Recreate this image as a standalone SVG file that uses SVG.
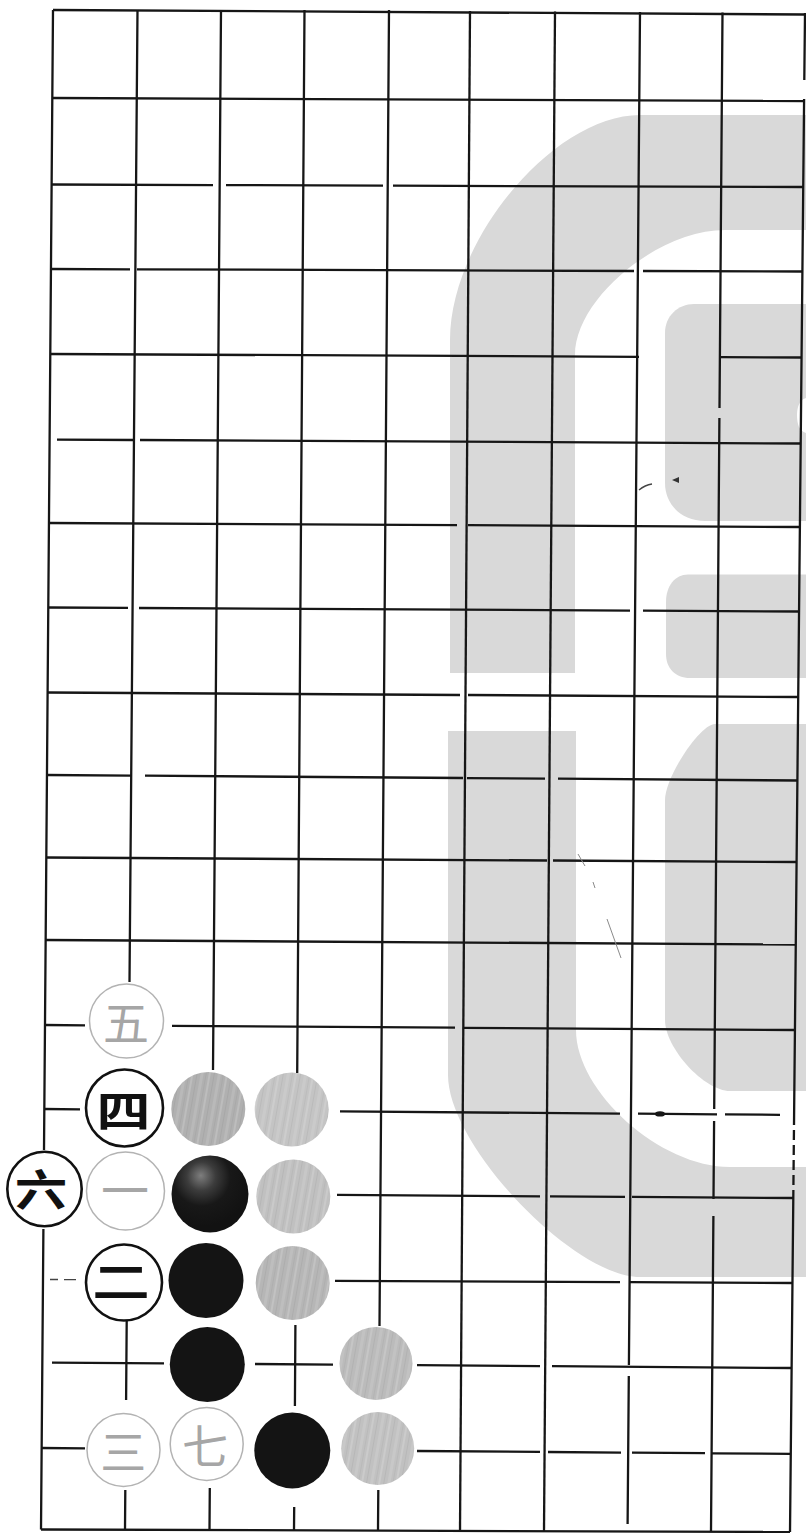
<svg xmlns="http://www.w3.org/2000/svg" width="806" height="1533" viewBox="0 0 806 1533">
<style>
.wm{fill:#d9d9d9}
.ln{stroke:#161616;stroke-width:2.3;fill:none}
.fd{stroke:#444;stroke-width:1.3;fill:none}
.sc{stroke:#8a8a8a;stroke-width:1;fill:none}
.wo{fill:#fff;stroke:#111;stroke-width:2.6}
.wl{fill:#fff;stroke:#b3b3b3;stroke-width:1.5}
.bk{fill:#141414}
.tb{font-family:"Noto Sans CJK SC","Noto Sans CJK JP",sans-serif;font-size:50px;font-weight:700;fill:#111;text-anchor:middle}
.tg{font-family:"Noto Sans CJK SC","Noto Sans CJK JP",sans-serif;font-size:46px;font-weight:400;fill:#a6a6a6;text-anchor:middle}
</style>
<defs>
<pattern id="streak" patternUnits="userSpaceOnUse" width="17" height="17" patternTransform="rotate(10)">
<rect x="1" width="2" height="17" fill="#fff" fill-opacity="0.16"/>
<rect x="6" width="1" height="17" fill="#000" fill-opacity="0.05"/>
<rect x="10" width="3" height="17" fill="#fff" fill-opacity="0.11"/>
<rect x="15" width="1" height="17" fill="#000" fill-opacity="0.04"/>
</pattern>
<radialGradient id="hl" cx="0.4" cy="0.3" r="0.62" fx="0.38" fy="0.26">
<stop offset="0" stop-color="#7e7e7e"/>
<stop offset="0.3" stop-color="#3c3c3c"/>
<stop offset="0.6" stop-color="#181818"/>
<stop offset="1" stop-color="#121212"/>
</radialGradient>
</defs>
<rect width="806" height="1533" fill="#fff"/>
<g id="watermark">
<path class="wm" d="M450 673 L450 340 C450 238.75 554.5 115 640 115 L806 115 L806 230 L725 230 C657.5 230 575 299 575 355 L575 673 Z"/>
<path class="wm" d="M806 304 L694 304 C678 304 665 316 665 333 L665 483 C665 505 682 521 705 521 L806 521 Z"/>
<path d="M806 398 C799 400 797 408 797 415 C797 424 799 431 806 433 Z" fill="#fff"/>
<path class="wm" d="M806 574.5 L688 574.5 C675 574.5 666 586 666 602 L666 654 C666 668 675 678 690 678 L806 678 Z"/>
<path class="wm" d="M448 731 L576 731 L576 1030 C576 1091.7 660 1167 730 1167 L806 1167 L806 1277 L640 1277 C573.5 1277 448 1146 448 1075 Z"/>
<path class="wm" d="M806 724 L715 724 C700 724 665 777 665 800 L665 1020 C665 1048 704 1091 730 1091 L806 1091 Z"/>
</g>
<g id="connectors">
<path class="ln" d="M53 10 L805 14.5"/>
<path class="ln" d="M52.3 98 L804.1 101"/>
<path class="ln" d="M51.6 184.5 L213 185.1 M226 185.1 L383 185.6 M393 185.7 L803.3 187"/>
<path class="ln" d="M50.9 269 L130 269.3 M137 269.3 L634 271 M643 271 L802.4 271.5"/>
<path class="ln" d="M50.3 354 L639 356.8 M721 357.1 L801.6 357.5"/>
<path class="ln" d="M57 439.6 L133 440 M140 440 L800.8 443.5"/>
<path class="ln" d="M48.9 523 L457 525.2 M468 525.2 L799.9 527"/>
<path class="ln" d="M48.3 607.5 L128 607.9 M139 608 L630 610.6 M643 610.7 L799.1 611.5"/>
<path class="ln" d="M47.6 692.5 L460 695 M468 695 L798.3 697"/>
<path class="ln" d="M46.9 775 L131 775.6 M145 775.7 L463 778 M467 778.1 L545 778.6 M558 778.7 L797.4 780.5"/>
<path class="ln" d="M46.3 857.5 L547 860.5 M553 860.5 L796.6 862"/>
<path class="ln" d="M45.6 940 L795.8 944.5"/>
<path class="ln" d="M45 1025 L85 1025.3 M172 1025.8 L455 1027.7 M463 1027.8 L794.9 1030"/>
<path class="ln" d="M44.3 1109 L80 1109.3 M340 1111.4 L620 1113.6 M638 1113.7 L717 1114.3 M725 1114.4 L780 1114.8"/>
<ellipse cx="660" cy="1113.9" rx="5" ry="2.6" fill="#161616"/>
<path class="ln" d="M337 1194.9 L540 1196.3 M550 1196.3 L625 1196.8 M632 1196.9 L793.3 1198"/>
<path class="fd" d="M50 1279.5 L58 1279.5 M64 1279.6 L76 1279.6"/>
<path class="ln" d="M335 1280.8 L620 1282.2 M630 1282.2 L792.5 1283"/>
<path class="ln" d="M52 1362.6 L164 1363.4 M255 1364 L333 1364.6 M417 1365.2 L540 1366.1 M552 1366.2 L791.6 1368"/>
<path class="ln" d="M41.6 1448 L85 1448.3 M417 1451 L540 1451.9 M548 1452 L621 1452.6 M632 1452.7 L705 1453.2 M712 1453.3 L790.8 1453.9"/>
<path class="ln" d="M41 1529.5 L790 1532"/>
<path class="ln" d="M53 10 L44 1150 M43.4 1229 L41 1529.5"/>
<path class="ln" d="M137.5 10 L129.5 982 M126.7 1321 L126.1 1400 M125.3 1490 L125 1530"/>
<path class="ln" d="M221 10 L213 1070 M209.8 1488 L209.5 1530"/>
<path class="ln" d="M304.5 10 L297.2 1073 M295.4 1325 L294.9 1406 M294.2 1507 L294 1530"/>
<path class="ln" d="M389 10 L379.5 1326 M378.3 1490 L378 1530"/>
<path class="ln" d="M470 11 L460 1531"/>
<path class="ln" d="M555 11.5 L544 1531"/>
<path class="ln" d="M640 12 L628.9 1365 M628.8 1376 L627.6 1524"/>
<path class="ln" d="M722.5 12.5 L719.5 408 M719.4 418 L714.2 1109 M714.1 1121 L713.5 1199 M713.4 1216 L711 1531"/>
<path class="ln" d="M805 13 L804.3 80 M804.1 99 L794.1 1115 M793.3 1198 L790 1532"/>
<path class="ln" stroke-dasharray="10 5" d="M794.1 1115 L793.3 1198"/>
<path class="sc" d="M578 854 L585 866 M593 882 L595 888 M607 919 L621 958"/>
<path class="fd" d="M639 490 Q645 485 652 484"/>
<path d="M672 480 L679 477 L679 483 Z" fill="#333"/>
</g>
<g id="stone-wu">
<circle cx="126.5" cy="1021" r="37" class="wl"/>
<text class="tg" x="126" y="1039.5">五</text>
</g>
<g id="stone-si">
<circle cx="124.5" cy="1108" r="38.5" class="wo"/>
<text class="tb" transform="translate(123.5 1111) scale(1.08 0.86)" x="0" y="19">四</text>
</g>
<g id="stone-g1">
<circle cx="208.3" cy="1109" r="37" fill="#b0b0b0"/>
<circle cx="208.3" cy="1109" r="37" fill="url(#streak)"/>
</g>
<g id="stone-g2">
<circle cx="291.7" cy="1109.5" r="37" fill="#c4c4c4"/>
<circle cx="291.7" cy="1109.5" r="37" fill="url(#streak)"/>
</g>
<g id="stone-liu">
<circle cx="44.5" cy="1189" r="37.2" class="wo"/>
<text class="tb" transform="translate(41 1190) scale(1.05 0.86)" x="0" y="19">六</text>
</g>
<g id="stone-yi">
<circle cx="125.5" cy="1191" r="39" class="wl"/>
<text class="tg" x="125" y="1208" style="font-size:48px">一</text>
</g>
<g id="stone-b1">
<circle cx="210" cy="1194" r="38.5" fill="url(#hl)"/>
</g>
<g id="stone-g3">
<circle cx="293.3" cy="1196.5" r="37" fill="#c0c0c0"/>
<circle cx="293.3" cy="1196.5" r="37" fill="url(#streak)"/>
</g>
<g id="stone-er">
<circle cx="124" cy="1282.5" r="38" class="wo"/>
<text class="tb" transform="translate(121 1282) scale(1.15 0.86)" x="0" y="19">二</text>
</g>
<g id="stone-b2">
<circle cx="206" cy="1280.5" r="37.5" class="bk"/>
</g>
<g id="stone-g4">
<circle cx="292.7" cy="1283" r="37" fill="#b6b6b6"/>
<circle cx="292.7" cy="1283" r="37" fill="url(#streak)"/>
</g>
<g id="stone-b3">
<circle cx="207.3" cy="1364.5" r="37.5" class="bk"/>
</g>
<g id="stone-g5">
<circle cx="376" cy="1363.5" r="36.5" fill="#bbbbbb"/>
<circle cx="376" cy="1363.5" r="36.5" fill="url(#streak)"/>
</g>
<g id="stone-san">
<circle cx="123.5" cy="1450" r="36.5" class="wl"/>
<text class="tg" x="123.3" y="1468.5">三</text>
</g>
<g id="stone-qi">
<circle cx="206.7" cy="1444" r="36.5" class="wl"/>
<text class="tg" x="205" y="1463">七</text>
</g>
<g id="stone-b4">
<circle cx="292.3" cy="1450.5" r="38" class="bk"/>
</g>
<g id="stone-g6">
<circle cx="377.7" cy="1448.5" r="36.5" fill="#c1c1c1"/>
<circle cx="377.7" cy="1448.5" r="36.5" fill="url(#streak)"/>
</g>
</svg>
